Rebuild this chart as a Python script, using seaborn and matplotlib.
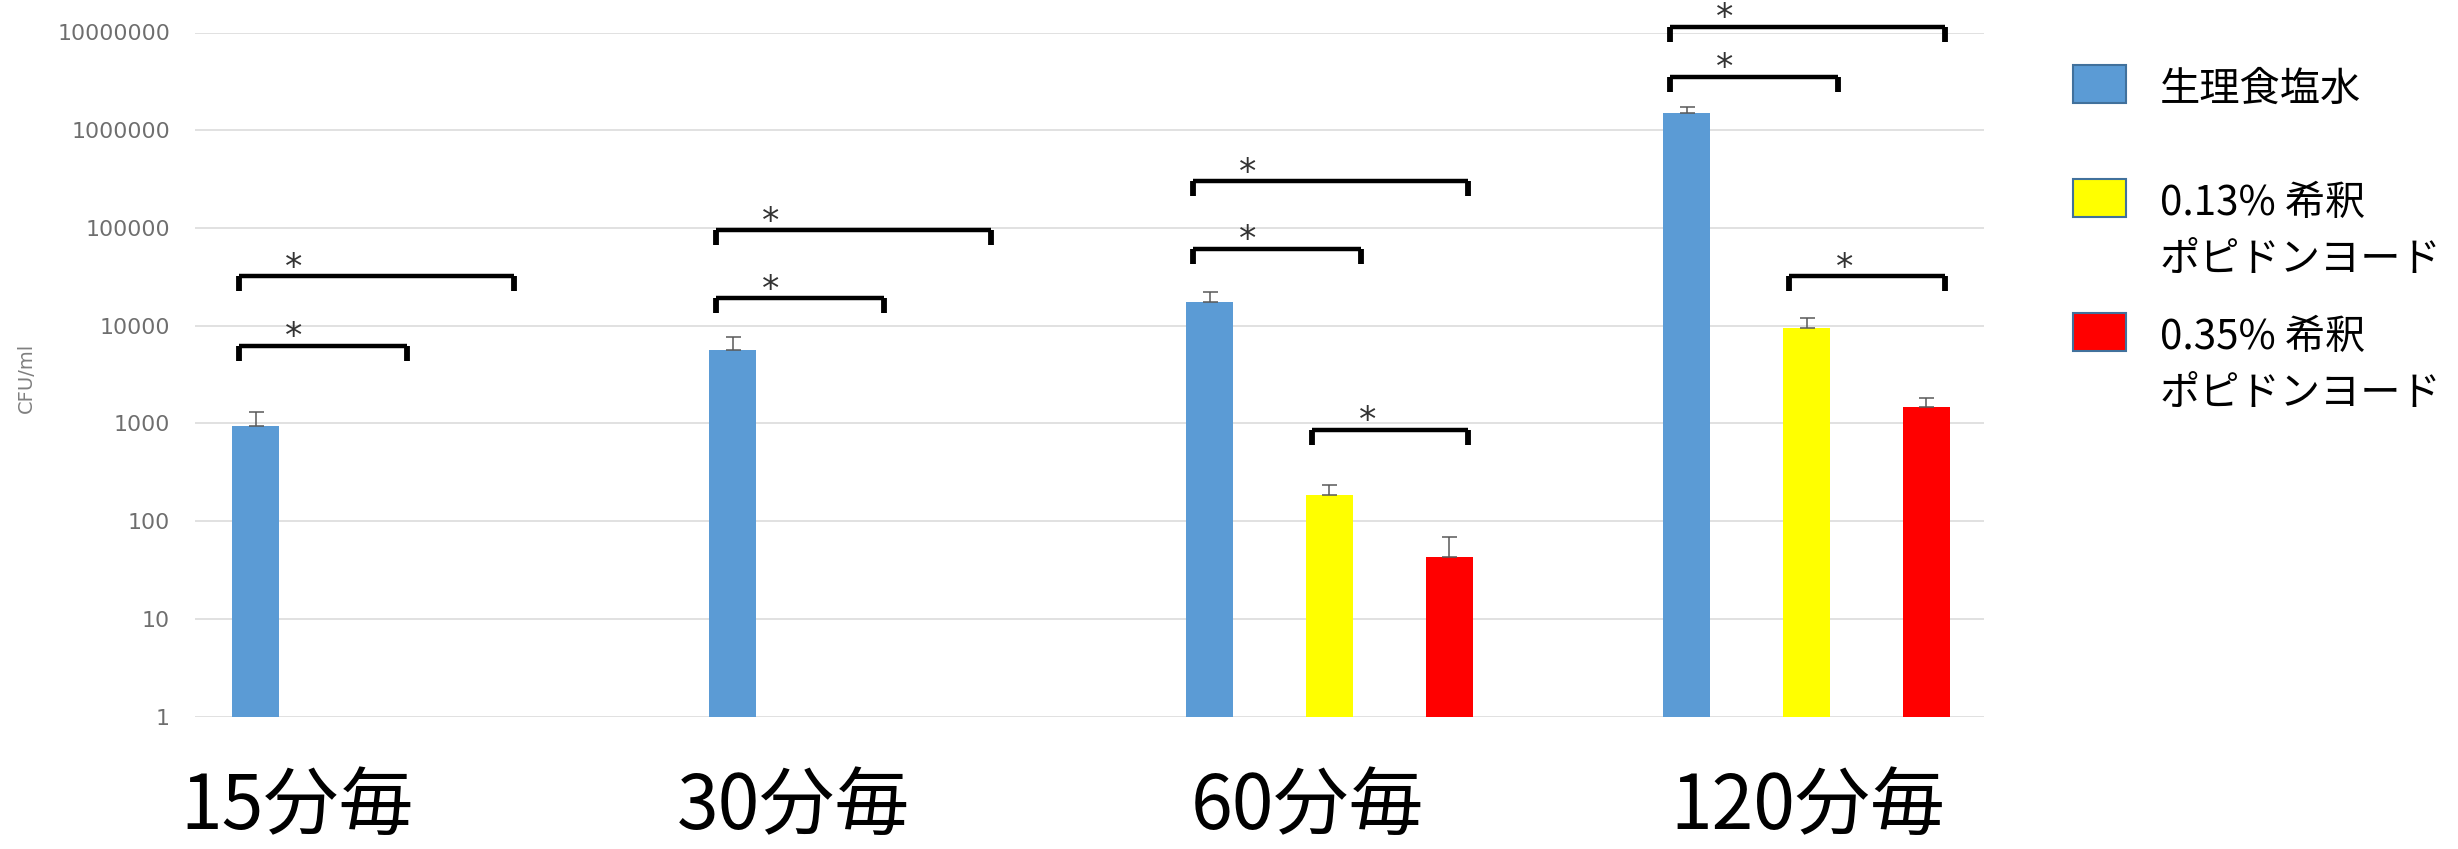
import numpy as np
import pandas as pd
import matplotlib
matplotlib.use("Agg")
import matplotlib.pyplot as plt
import matplotlib.transforms as mtransforms
from matplotlib.colors import to_rgba
from matplotlib.patches import Rectangle
from matplotlib.path import Path
from matplotlib.ticker import NullLocator
import seaborn as sns

# ---- data -------------------------------------------------------------
intervals = ["15分毎", "30分毎", "60分毎", "120分毎"]
solutions = ["生理食塩水", "0.13% 希釈\nポピドンヨード", "0.35% 希釈\nポピドンヨード"]
colors = ["#5B9BD5", "#FFFF00", "#FF0000"]

saline_mean = [950, 5700, 17500, 1510000]
saline_sd = [360, 1900, 4600, 230000]
pvp013_mean = [np.nan, np.nan, 185, 9400]
pvp013_sd = [np.nan, np.nan, 50, 2600]
pvp035_mean = [np.nan, np.nan, 43, 1470]
pvp035_sd = [np.nan, np.nan, 26, 330]

# significance brackets: (interval, from solution, to solution, bracket level)
sig_pairs = [
    (0, 0, 1, 6.2e3), (0, 0, 2, 3.2e4),
    (1, 0, 1, 1.9e4), (1, 0, 2, 9.5e4),
    (2, 0, 1, 6.1e4), (2, 0, 2, 3.0e5), (2, 1, 2, 8.6e2),
    (3, 0, 1, 3.5e6), (3, 0, 2, 1.15e7), (3, 1, 2, 3.2e4),
]
yticks = [1, 10, 100, 1000, 10000, 100000, 1000000, 10000000]

rows = []
for sol, means, sds in zip(solutions,
                           [saline_mean, pvp013_mean, pvp035_mean],
                           [saline_sd, pvp013_sd, pvp035_sd]):
    for cat, m, s in zip(intervals, means, sds):
        if not np.isnan(m):
            rows.append({"interval": cat, "solution": sol, "cfu": m, "sd": s})
df = pd.DataFrame(rows)

# ---- figure -----------------------------------------------------------
sns.set_style("white")
plt.rcParams["font.family"] = ["Noto Sans CJK JP", "DejaVu Sans"]

W, H = 2458, 849
fig = plt.figure(figsize=(W / 100, H / 100), dpi=100)
ax = fig.add_axes([195 / W, 132.4 / H, 1789 / W, 684.1 / H])
ax.set_yscale("log")

sns.barplot(data=df, x="interval", y="cfu", hue="solution",
            order=intervals, hue_order=solutions,
            palette=dict(zip(solutions, colors)), saturation=1,
            width=0.752, gap=0.607, errorbar=None, legend=False,
            linewidth=0, ax=ax)

ax.set_ylim(1, 1e7)
ax.set_xlim(-0.378, 3.372)
ax.set_yticks(yticks)
ax.set_yticklabels([str(v) for v in yticks])
ax.yaxis.set_minor_locator(NullLocator())
ax.yaxis.grid(True, color="#d9d9d9", lw=1.1)
ax.xaxis.grid(False)
ax.set_axisbelow(True)
ax.tick_params(axis="y", length=0, pad=18, labelsize=15.8,
               labelcolor="#6e6e6e", labelfontfamily="DejaVu Sans")
ax.tick_params(axis="x", length=0, labelbottom=False)
ax.set_xlabel("")
ax.set_ylabel("")
for s in ax.spines.values():
    s.set_visible(False)

# bar centres per (interval, solution)
centers = {}
offset = {}
for cont in ax.containers:
    fc = to_rgba(cont.patches[0].get_facecolor())
    h = [i for i, c in enumerate(colors) if np.allclose(to_rgba(c), fc, atol=0.01)][0]
    for bar in cont:
        xc = bar.get_x() + bar.get_width() / 2
        k = int(round(xc))
        centers[(k, h)] = xc
        offset[h] = xc - k

# upper error bars
for _, r in df.iterrows():
    k = intervals.index(r["interval"])
    h = solutions.index(r["solution"])
    ax.errorbar(centers[(k, h)], r["cfu"], yerr=[[0], [r["sd"]]], fmt="none",
                ecolor="#595959", elinewidth=1.1, capsize=5.4, capthick=1.1,
                zorder=4)

# significance brackets
tick = Path([(0, 0), (0, -1)])
for k, a, b, level in sig_pairs:
    x0 = k + offset[a] - 0.036
    x1 = k + offset[b] + (0.067 if b == 1 else 0.04)
    ax.plot([x0, x1], [level, level], color="black", lw=3.2,
            solid_capstyle="butt", marker=tick, ms=21.6, mew=4.2,
            clip_on=False, zorder=5)
    ax.annotate("*", xy=(x0, level), xytext=(39.6, -1),
                textcoords="offset points", ha="center", va="baseline",
                fontsize=25, color="#333333", family="DejaVu Sans",
                annotation_clip=False)

# interval labels under the groups
label_shift = [-0.165, -0.123, -0.046, 0.003]
trans = mtransforms.blended_transform_factory(ax.transData, fig.transFigure)
for k, (lab, dx) in enumerate(zip(intervals, label_shift)):
    ax.text(k + dx, 20 / H, lab, transform=trans, ha="center",
            va="baseline", fontsize=54, color="black", clip_on=False)

# y axis title
fig.text(26 / W, 1 - 378 / H, "CFU/ml", rotation=90, ha="center",
         va="center", fontsize=14, color="#7f7f7f", family="DejaVu Sans")

# legend
legend_tops = [65, 179, 313]
for sol, col, top in zip(solutions, colors, legend_tops):
    fig.add_artist(Rectangle((2073 / W, 1 - (top + 38) / H), 53 / W, 38 / H,
                             transform=fig.transFigure, facecolor=col,
                             edgecolor="#41719C", lw=1.5))
    for i, line in enumerate(sol.split("\n")):
        fig.text(2160 / W, 1 - (top + 24 + i * 56.5) / H, line,
                 ha="left", va="center", fontsize=29, color="black")

fig.savefig("out.png", dpi=100, facecolor="white")
